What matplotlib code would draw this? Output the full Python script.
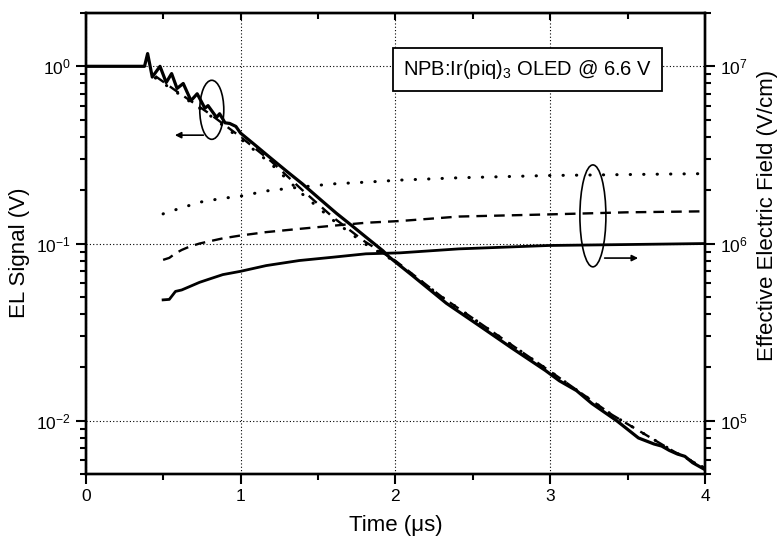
import matplotlib
matplotlib.use("Agg")
import matplotlib.pyplot as plt
from matplotlib.patches import Ellipse
from matplotlib.ticker import LogLocator, MultipleLocator, NullFormatter, FixedLocator

plt.rcParams['font.family'] = ['Liberation Sans', 'DejaVu Sans']
plt.rcParams['mathtext.fontset'] = 'custom'
plt.rcParams['mathtext.rm'] = 'Liberation Sans'
plt.rcParams['mathtext.it'] = 'Liberation Sans:italic'
plt.rcParams['mathtext.bf'] = 'Liberation Sans:bold'

# EL signal (left axis), V
t_el = [0.0, 0.38, 0.40, 0.43, 0.48, 0.52, 0.555, 0.59, 0.63, 0.68, 0.72,
        0.77, 0.79, 0.845, 0.865, 0.90, 0.93, 0.97, 1.00, 1.08, 1.19, 1.30,
        1.40, 1.51, 1.62, 1.72, 1.82, 1.92, 1.96, 2.11, 2.33, 2.54, 2.75,
        2.97, 3.06, 3.17, 3.27, 3.43, 3.57, 3.67, 3.72, 3.77, 3.82, 3.87,
        3.92, 4.0]
el = [1.0, 1.0, 1.18, 0.87, 1.0, 0.81, 0.91, 0.75, 0.80, 0.64, 0.70,
      0.58, 0.60, 0.515, 0.54, 0.48, 0.476, 0.458, 0.42, 0.368, 0.306, 0.255,
      0.217, 0.179, 0.148, 0.126, 0.107, 0.091, 0.084, 0.066, 0.046, 0.0345, 0.0258,
      0.0192, 0.0168, 0.0148, 0.0125, 0.0100, 0.0080, 0.0074, 0.0072, 0.0068, 0.0065, 0.0063,
      0.0058, 0.0053]

# model fits of EL decay
t_fit = [0.45, 0.6, 0.8, 1.0, 1.2, 1.4, 1.6, 1.8, 2.0, 2.3, 2.6, 3.0, 3.4, 3.8, 4.0]
el_fit_dot = [0.86, 0.70, 0.53, 0.39, 0.28, 0.19, 0.135, 0.100, 0.079, 0.050,
              0.033, 0.019, 0.0108, 0.0067, 0.0054]
el_fit_dash = [0.88, 0.71, 0.54, 0.40, 0.29, 0.20, 0.140, 0.103, 0.080, 0.050,
               0.033, 0.019, 0.0108, 0.0067, 0.0054]

# effective electric field (right axis), V/cm
t_field = [0.50, 0.54, 0.58, 0.62, 0.67, 0.735, 0.80, 0.886, 1.0, 1.166,
           1.38, 1.595, 1.81, 2.03, 2.41, 2.99, 3.49, 4.0]
field_solid = [4.81e5, 4.84e5, 5.37e5, 5.47e5, 5.71e5, 6.04e5, 6.31e5, 6.68e5,
               6.97e5, 7.51e5, 8.02e5, 8.37e5, 8.75e5, 8.86e5, 9.33e5, 9.75e5,
               9.87e5, 1.0e6]
field_dash = [8.09e5, 8.3e5, 8.8e5, 9.2e5, 9.6e5, 1.0e6, 1.03e6, 1.07e6,
              1.11e6, 1.16e6, 1.21e6, 1.26e6, 1.31e6, 1.34e6, 1.42e6, 1.46e6,
              1.50e6, 1.52e6]
field_dot = [1.47e6, 1.52e6, 1.55e6, 1.60e6, 1.64e6, 1.71e6, 1.75e6, 1.80e6,
             1.85e6, 1.98e6, 2.08e6, 2.17e6, 2.22e6, 2.28e6, 2.35e6, 2.42e6,
             2.45e6, 2.48e6]

x_ticks = [0, 1, 2, 3, 4]

DOT = (0, (0.1, 4.3))
DASH = (0, (4.5, 3.0))

fig = plt.figure(figsize=(7.79, 5.4), dpi=100)
ax = fig.add_axes([0.110, 0.122, 0.795, 0.854])

ax.plot(t_fit, el_fit_dot, color="black", lw=2.2, linestyle=DOT,
        dash_capstyle="round")
ax.plot(t_fit, el_fit_dash, color="black", lw=1.7, linestyle=DASH)
ax.plot(t_el, el, color="black", lw=2.3)

ax.set_yscale("log")
ax.set_xlim(0, 4)
ax.set_ylim(0.005, 2)
ax.xaxis.set_major_locator(FixedLocator(x_ticks))
ax.xaxis.set_minor_locator(MultipleLocator(0.5))
ax.yaxis.set_major_locator(LogLocator(base=10, numticks=10))
ax.yaxis.set_minor_locator(LogLocator(base=10, subs=range(2, 10), numticks=10))
ax.yaxis.set_minor_formatter(NullFormatter())
ax.grid(True, which="major", color="black", linestyle=(0, (1, 2)), lw=0.8)
ax.tick_params(which="both", direction="out", width=1.5, labelsize=12.5)
ax.tick_params(which="major", length=7)
ax.tick_params(which="minor", length=4)
for s in ax.spines.values():
    s.set_linewidth(1.7)
ax.set_xlabel("Time (μs)", fontsize=16, labelpad=8)
ax.set_ylabel("EL Signal (V)", fontsize=16)
ax.yaxis.set_label_coords(-0.090, 0.48)

top = ax.secondary_xaxis("top")
top.xaxis.set_major_locator(FixedLocator(x_ticks))
top.xaxis.set_minor_locator(MultipleLocator(0.5))
top.tick_params(which="both", direction="in", labeltop=False, width=1.5)
top.tick_params(which="major", length=5)
top.tick_params(which="minor", length=4)

ax2 = ax.twinx()
ax2.plot(t_field, field_dot, color="black", lw=2.2, linestyle=DOT,
         dash_capstyle="round")
ax2.plot(t_field, field_dash, color="black", lw=1.7, linestyle=DASH)
ax2.plot(t_field, field_solid, color="black", lw=2.0)
ax2.set_yscale("log")
ax2.set_ylim(5e4, 2e7)
ax2.yaxis.set_major_locator(LogLocator(base=10, numticks=10))
ax2.yaxis.set_minor_locator(LogLocator(base=10, subs=range(2, 10), numticks=10))
ax2.yaxis.set_minor_formatter(NullFormatter())
ax2.tick_params(which="both", direction="out", width=1.5, labelsize=12.5)
ax2.tick_params(which="major", length=7)
ax2.tick_params(which="minor", length=4)
for s in ax2.spines.values():
    s.set_linewidth(1.7)
ax2.set_ylabel("Effective Electric Field (V/cm)", fontsize=16)
ax2.yaxis.set_label_coords(1.084, 0.56)

# ellipses and arrows marking which axis each group belongs to
ax2.add_patch(Ellipse((0.2036, 0.790), 0.0388, 0.128, transform=ax2.transAxes,
                      fill=False, edgecolor="black", lw=1.2))
ax2.annotate("", xy=(0.144, 0.735), xytext=(0.190, 0.735),
             xycoords="axes fraction",
             arrowprops=dict(arrowstyle="-|>", color="black", lw=1.2,
                             mutation_scale=9, shrinkA=0, shrinkB=0))
ax2.add_patch(Ellipse((0.819, 0.560), 0.042, 0.221, transform=ax2.transAxes,
                      fill=False, edgecolor="black", lw=1.2))
ax2.annotate("", xy=(0.892, 0.4685), xytext=(0.838, 0.4685),
             xycoords="axes fraction",
             arrowprops=dict(arrowstyle="-|>", color="black", lw=1.2,
                             mutation_scale=9, shrinkA=0, shrinkB=0))

ax2.text(0.713, 0.878, "NPB:Ir(piq)$_3$ OLED @ 6.6 V", transform=ax2.transAxes,
         ha="center", va="center", fontsize=14.5, zorder=10,
         bbox=dict(boxstyle="square,pad=0.5", facecolor="white",
                   edgecolor="black", lw=1.3))

fig.savefig("out.png", dpi=100)
